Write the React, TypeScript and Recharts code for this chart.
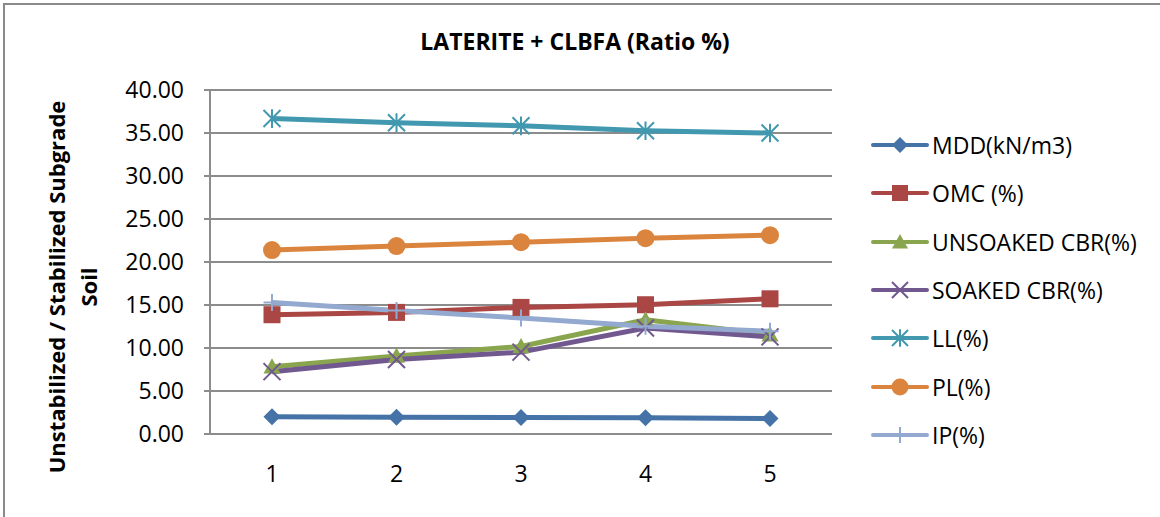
import { LineChart, Line, XAxis, YAxis, CartesianGrid, Label } from "recharts";

const ratios = ["1", "2", "3", "4", "5"];
const mdd = [2.0, 1.95, 1.92, 1.88, 1.8];
const omc = [13.87, 14.14, 14.72, 15.03, 15.72];
const unsoakedCbr = [7.83, 9.08, 10.17, 13.29, 11.56];
const soakedCbr = [7.25, 8.67, 9.52, 12.33, 11.29];
const ll = [36.68, 36.2, 35.84, 35.26, 35.0];
const pl = [21.39, 21.85, 22.31, 22.77, 23.12];
const ip = [15.3, 14.37, 13.49, 12.52, 11.94];
const yTicks = [0, 5, 10, 15, 20, 25, 30, 35, 40];

type Shape = "diamond" | "square" | "triangle" | "x" | "star" | "circle" | "plus";

const series: { key: string; name: string; color: string; shape: Shape; values: number[] }[] = [
  { key: "mdd", name: "MDD(kN/m3)", color: "#4572A7", shape: "diamond", values: mdd },
  { key: "omc", name: "OMC (%)", color: "#AA4643", shape: "square", values: omc },
  { key: "unsoaked", name: "UNSOAKED CBR(%)", color: "#89A54E", shape: "triangle", values: unsoakedCbr },
  { key: "soaked", name: "SOAKED CBR(%)", color: "#71588F", shape: "x", values: soakedCbr },
  { key: "ll", name: "LL(%)", color: "#4198AF", shape: "star", values: ll },
  { key: "pl", name: "PL(%)", color: "#DB843D", shape: "circle", values: pl },
  { key: "ip", name: "IP(%)", color: "#93A9CF", shape: "plus", values: ip },
];

const data = ratios.map((r, i) => {
  const row: Record<string, string | number> = { ratio: r };
  series.forEach((s) => (row[s.key] = s.values[i]));
  return row;
});

const FONT = "'Open Sans', 'Noto Sans', sans-serif";

function marker(shape: Shape, color: string, cx: number, cy: number, s: number) {
  switch (shape) {
    case "diamond":
      return <path d={`M${cx},${cy - s}L${cx + s},${cy}L${cx},${cy + s}L${cx - s},${cy}Z`} fill={color} />;
    case "square":
      return <rect x={cx - s} y={cy - s} width={2 * s} height={2 * s} fill={color} />;
    case "triangle":
      return <path d={`M${cx},${cy - s}L${cx + s},${cy + s * 0.8}L${cx - s},${cy + s * 0.8}Z`} fill={color} />;
    case "circle":
      return <circle cx={cx} cy={cy} r={s} fill={color} />;
    case "x":
      return <path d={`M${cx - s},${cy - s}L${cx + s},${cy + s}M${cx - s},${cy + s}L${cx + s},${cy - s}`} stroke={color} strokeWidth={2} />;
    case "star":
      return (
        <path
          d={`M${cx - s},${cy - s}L${cx + s},${cy + s}M${cx - s},${cy + s}L${cx + s},${cy - s}M${cx},${cy - s * 1.1}L${cx},${cy + s * 1.1}`}
          stroke={color}
          strokeWidth={2}
        />
      );
    case "plus":
      return <path d={`M${cx - s},${cy}L${cx + s},${cy}M${cx},${cy - s}L${cx},${cy + s}`} stroke={color} strokeWidth={2} />;
  }
}

// custom dot renderer per series
const dotFor = (shape: Shape, color: string) => (props: any) => {
  const { cx, cy, index } = props;
  return <g key={`${shape}-${index}`}>{marker(shape, color, cx, cy, shape === "circle" ? 9 : 8.5)}</g>;
};

function ChartLegend() {
  return (
    <div style={{ position: "absolute", left: 871, top: 121, fontFamily: FONT }}>
      {series.map((s) => (
        <div key={s.key} style={{ display: "flex", alignItems: "center", height: 48.3 }}>
          <svg width={58} height={24}>
            <line x1={2} y1={12} x2={56} y2={12} stroke={s.color} strokeWidth={4} strokeLinecap="round" />
            {marker(s.shape, s.color, 29, 12, s.shape === "circle" ? 8.5 : 8)}
          </svg>
          <span style={{ fontSize: 23, color: "#000", marginLeft: 3, whiteSpace: "nowrap" }}>{s.name}</span>
        </div>
      ))}
    </div>
  );
}

function YLabel(props: any) {
  const { viewBox } = props;
  const cy = viewBox.y + viewBox.height / 2 + 25;
  return (
    <g fontFamily={FONT} fontWeight="bold" fontSize={22} fill="#000">
      <text x={65} y={cy} textAnchor="middle" transform={`rotate(-90 65 ${cy})`}>
        Unstabilized / Stabilized Subgrade
      </text>
      <text x={97} y={cy} textAnchor="middle" transform={`rotate(-90 97 ${cy})`}>
        Soil
      </text>
    </g>
  );
}

export default function App() {
  return (
    <div style={{ position: "absolute", left: 0, top: 0, width: 1160, height: 517, overflow: "hidden", background: "#fff" }}>
      <div style={{ position: "absolute", left: 3, top: 3, width: 1200, height: 600, border: "2px solid #8a8a8a" }} />
      <div
        style={{
          position: "absolute",
          left: 0,
          width: 1150,
          top: 25,
          textAlign: "center",
          fontFamily: FONT,
          fontWeight: "bold",
          fontSize: 23,
          color: "#000",
        }}
      >
        LATERITE + CLBFA (Ratio %)
      </div>
      <div style={{ position: "absolute", left: 0, top: 0 }}>
        <LineChart width={1160} height={517} data={data} margin={{ top: 90, right: 328, bottom: 0, left: 0 }}>
          <CartesianGrid vertical={false} stroke="#8c8c8c" strokeWidth={2} />
          <XAxis
            dataKey="ratio"
            padding={{ left: 62, right: 62 }}
            tickLine={false}
            axisLine={{ stroke: "#8c8c8c", strokeWidth: 2 }}
            tick={{ fontSize: 23, fill: "#000", fontFamily: FONT }}
            tickMargin={26}
            height={83}
          />
          <YAxis
            width={210}
            domain={[0, 40]}
            ticks={yTicks}
            interval={0}
            tickFormatter={(v: number) => v.toFixed(2)}
            axisLine={{ stroke: "#8c8c8c", strokeWidth: 2 }}
            tickLine={{ stroke: "#8c8c8c", strokeWidth: 2 }}
            tickSize={6}
            tickMargin={20}
            tick={{ fontSize: 23, fill: "#000", fontFamily: FONT }}
          >
            <Label content={<YLabel />} />
          </YAxis>
          {series.map((s) => (
            <Line
              key={s.key}
              dataKey={s.key}
              name={s.name}
              stroke={s.color}
              strokeWidth={5}
              dot={dotFor(s.shape, s.color)}
              activeDot={false}
              isAnimationActive={false}
            />
          ))}
        </LineChart>
      </div>
      <ChartLegend />
    </div>
  );
}
